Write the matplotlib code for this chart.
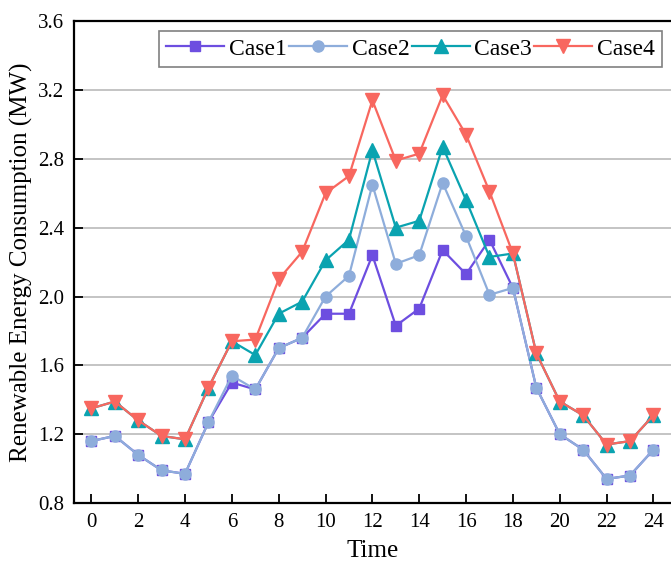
import numpy as np
import matplotlib
matplotlib.use("Agg")
from matplotlib import pyplot as plt

plt.rcParams["font.family"] = ["Liberation Serif", "DejaVu Serif"]

# ------------------------------------------------------------------------------
#  Data
# ------------------------------------------------------------------------------

hours = np.arange(25)

case1 = [1.16, 1.19, 1.08, 0.99, 0.97, 1.27, 1.50, 1.46, 1.70, 1.76, 1.90, 1.90,
         2.24, 1.83, 1.93, 2.27, 2.13, 2.33, 2.05, 1.47, 1.20, 1.11, 0.94, 0.96,
         1.11]
case2 = [1.16, 1.19, 1.08, 0.99, 0.97, 1.27, 1.54, 1.46, 1.70, 1.76, 2.00, 2.12,
         2.65, 2.19, 2.24, 2.66, 2.35, 2.01, 2.05, 1.47, 1.20, 1.11, 0.94, 0.96,
         1.11]
case3 = [1.35, 1.39, 1.28, 1.19, 1.17, 1.47, 1.74, 1.66, 1.90, 1.97, 2.21, 2.33,
         2.85, 2.40, 2.44, 2.87, 2.56, 2.23, 2.25, 1.67, 1.39, 1.31, 1.14, 1.16,
         1.31]
case4 = [1.35, 1.39, 1.28, 1.19, 1.17, 1.47, 1.74, 1.75, 2.10, 2.26, 2.60, 2.70,
         3.14, 2.79, 2.83, 3.17, 2.94, 2.61, 2.25, 1.67, 1.39, 1.31, 1.14, 1.16,
         1.31]

labels = ["Case1", "Case2", "Case3", "Case4"]
x_ticks = np.arange(0, 25, 2)
y_ticks = [0.8, 1.2, 1.6, 2.0, 2.4, 2.8, 3.2, 3.6]

# ------------------------------------------------------------------------------
#  Plot
# ------------------------------------------------------------------------------

fig = plt.figure(figsize=(6.71, 5.71), dpi=100)
ax = fig.add_axes([0.1103, 0.119, 0.8897, 0.844])

styles = [
    dict(color="#6d4ee0", marker="s", markersize=7.5),
    dict(color="#8eaddb", marker="o", markersize=8),
    dict(color="#0aa3b0", marker="^", markersize=9.5),
    dict(color="#f8675f", marker="v", markersize=9.5),
]
for series, label, st in zip([case1, case2, case3, case4], labels, styles):
    ax.plot(hours, series, label=label, linewidth=1.6, **st)

ax.set_xlim(-0.74, 24.75)
ax.set_ylim(0.8, 3.6)
ax.set_xticks(x_ticks)
ax.set_yticks(y_ticks)
ax.set_yticklabels([f"{v:.1f}" for v in y_ticks])
ax.grid(axis="y", color="#c4c4c4", linewidth=1.4)
ax.set_axisbelow(True)

ax.tick_params(direction="in", length=6.5, width=1.3, labelsize=15, pad=7)
for side in ["left", "bottom", "top"]:
    ax.spines[side].set_linewidth(1.6)
ax.spines["right"].set_visible(False)

ax.set_xlabel("Time", fontsize=18, labelpad=6)
ax.set_ylabel("Renewable Energy Consumption (MW)", fontsize=18, labelpad=4)

leg = ax.legend(
    loc="upper right",
    bbox_to_anchor=(662 / 671, 1 - 31 / 571),
    bbox_transform=fig.transFigure,
    borderaxespad=0,
    ncol=4,
    fontsize=17,
    handlelength=2.45,
    handletextpad=0.2,
    columnspacing=0.1,
    borderpad=0.3,
    fancybox=False,
    framealpha=1,
    edgecolor="#808080",
)
leg.get_frame().set_linewidth(1.2)

fig.savefig("out.png", dpi=100)
